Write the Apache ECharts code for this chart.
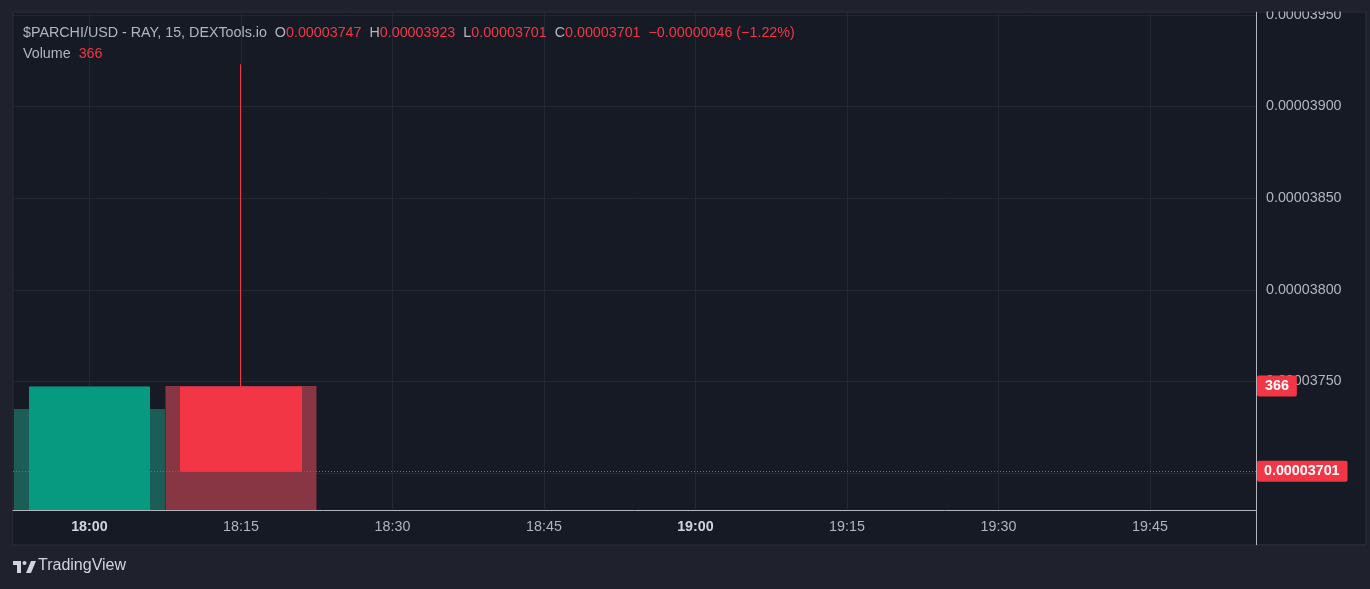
<!DOCTYPE html>
<html>
<head>
<meta charset="utf-8">
<script src="https://cdn.jsdelivr.net/npm/echarts@6/dist/echarts.min.js"></script>
<style>
html,body{margin:0;padding:0;background:#1f222d;}
#chart{width:1370px;height:589px;}
</style>
</head>
<body>
<div id="chart"></div>
<script>
// ---- data ----
const times = ['18:00', '18:15'];
const opens = [0.00003650, 0.00003747];
const highs = [0.00003747, 0.00003923];
const lows = [0.00003650, 0.00003701];
const closes = [0.00003747, 0.00003701];
const volumes = [298, 366];
const timeTicks = ['18:00', '18:15', '18:30', '18:45', '19:00', '19:15', '19:30', '19:45'];
const priceTicks = [0.00003700, 0.00003750, 0.00003800, 0.00003850, 0.00003900, 0.00003950];
const priceLabels = [0.00003750, 0.00003800, 0.00003850, 0.00003900, 0.00003950];
const symbolText = '$PARCHI/USD - RAY, 15, DEXTools.io';
const changeAbs = '\u22120.00000046';
const changePct = '(\u22121.22%)';

// ---- helpers ----
const toMin = s => { const [h, m] = s.split(':').map(Number); return h * 60 + m; };
const fmtTime = v => { const h = Math.floor(v / 60), m = Math.round(v - h * 60); return h + ':' + String(m).padStart(2, '0'); };
const fmtPrice = v => v.toFixed(8);

const X_MIN = 1072.43, X_MAX = 1195.5;
const candleData = times.map((t, i) => [toMin(t), opens[i], closes[i], lows[i], highs[i]]);
const volData = times.map((t, i) => ({
  value: [toMin(t), volumes[i]],
  itemStyle: { color: closes[i] >= opens[i] ? '#1c5e57' : '#883643' }
}));
const last = times.length - 1;

const chart = echarts.init(document.getElementById('chart'));
const UP = '#089981', DOWN = '#f23645';
const GRID = '#232733';
const PANEL = '#161a25', OUTER = '#1f222d';
const FONT = '"Liberation Sans", Roboto, sans-serif';
const FS = 14.3;
const LOGO = '#d1d4dc';

chart.setOption({
  backgroundColor: OUTER,
  animation: false,
  textStyle: { fontFamily: FONT },
  graphic: [
    { type: 'rect', z: -10, silent: true, shape: { x: 13, y: 12, width: 1353, height: 533 }, style: { fill: PANEL, stroke: '#2a2e39', lineWidth: 1 } },
    // masks outside the plot area (so candles overflowing the price range are cut at the axis)
    { type: 'rect', z: 5, silent: true, shape: { x: 13.5, y: 511, width: 1242.5, height: 34 }, style: { fill: PANEL } },
    { type: 'rect', z: 5, silent: true, shape: { x: 0, y: 545, width: 1370, height: 44 }, style: { fill: OUTER } },
    { type: 'line', z: 6, silent: true, shape: { x1: 13, y1: 545, x2: 1366, y2: 545 }, style: { stroke: '#2a2e39', lineWidth: 1 } },
    { type: 'rect', z: 100, silent: true, shape: { x: 1240, y: 0, width: 130, height: 11.5 }, style: { fill: OUTER } },
    { type: 'line', z: 50, silent: true, shape: { x1: 1256.5, y1: 510, x2: 1256.5, y2: 545 }, style: { stroke: '#b2b5be', lineWidth: 1 } },
    { type: 'text', z: 60, left: 23, top: 26, style: {
        text: '{g|' + symbolText + '  O}{r|' + fmtPrice(opens[last]) + '}{g|  H}{r|' + fmtPrice(highs[last]) +
              '}{g|  L}{r|' + fmtPrice(lows[last]) + '}{g|  C}{r|' + fmtPrice(closes[last]) + '}{r|  ' + changeAbs + ' ' + changePct + '}',
        rich: { g: { fill: '#b2b5be', fontSize: FS, fontFamily: FONT }, r: { fill: DOWN, fontSize: FS, fontFamily: FONT } }
    } },
    { type: 'text', z: 60, left: 23, top: 47, style: {
        text: '{g|Volume}{r|  ' + volumes[last] + '}',
        rich: { g: { fill: '#b2b5be', fontSize: FS, fontFamily: FONT }, r: { fill: DOWN, fontSize: FS, fontFamily: FONT } }
    } },
    // TradingView logo
    { type: 'rect', z: 60, silent: true, shape: { x: 13, y: 561, width: 8, height: 4 }, style: { fill: LOGO } },
    { type: 'rect', z: 60, silent: true, shape: { x: 17, y: 561, width: 4, height: 12 }, style: { fill: LOGO } },
    { type: 'circle', z: 60, silent: true, shape: { cx: 24.5, cy: 563, r: 2 }, style: { fill: LOGO } },
    { type: 'polygon', z: 60, silent: true, shape: { points: [[26, 573], [31, 561], [36, 561], [31, 573]] }, style: { fill: LOGO } },
    { type: 'text', z: 60, left: 38, top: 558, style: { text: 'TradingView', fill: LOGO, fontSize: 16, fontFamily: FONT, fontWeight: 500 } }
  ],
  grid: { left: 13, right: 114, top: 12, bottom: 79 },
  xAxis: [
    {
      type: 'value', position: 'bottom',
      min: X_MIN, max: X_MAX,
      axisLine: { show: false }, axisTick: { show: false, customValues: timeTicks.map(toMin) },
      axisLabel: { show: false, customValues: timeTicks.map(toMin) },
      splitLine: { show: true, lineStyle: { color: GRID, width: 1 } }
    },
    {
      type: 'value', position: 'bottom', z: 10,
      min: X_MIN, max: X_MAX,
      axisLine: { show: true, onZero: false, lineStyle: { color: '#b2b5be', width: 1 } },
      axisTick: { show: false, customValues: timeTicks.map(toMin) },
      splitLine: { show: false },
      axisLabel: {
        customValues: timeTicks.map(toMin),
        margin: 10,
        formatter: v => { const s = fmtTime(v); return s.endsWith(':00') ? '{b|' + s + '}' : '{n|' + s + '}'; },
        rich: {
          b: { color: '#d1d4dc', fontSize: FS, fontWeight: 'bold', fontFamily: FONT },
          n: { color: '#b2b5be', fontSize: FS, fontFamily: FONT }
        }
      }
    }
  ],
  yAxis: [
    {
      type: 'value', position: 'right',
      min: 0.000036799, max: 0.000039515,
      axisLine: { show: true, lineStyle: { color: '#b2b5be', width: 1 } },
      axisTick: { show: false, customValues: priceTicks },
      splitLine: { show: true, lineStyle: { color: GRID, width: 1 } },
      axisLabel: { customValues: priceLabels, margin: 10, color: '#b2b5be', fontSize: FS, fontFamily: FONT, formatter: v => fmtPrice(v) }
    },
    {
      type: 'value', min: 0, max: 1470, show: false,
      axisLine: { show: false }, splitLine: { show: false }, axisLabel: { show: false }
    }
  ],
  series: [
    {
      type: 'bar', name: 'Volume', xAxisIndex: 0, yAxisIndex: 1, z: 1,
      barWidth: 151, data: volData, clip: true
    },
    {
      type: 'candlestick', name: 'Price', xAxisIndex: 0, yAxisIndex: 0, z: 3,
      barWidth: 121, clip: true,
      encode: { x: 0, y: [1, 2, 3, 4] },
      itemStyle: { color: UP, color0: DOWN, borderColor: UP, borderColor0: DOWN, borderWidth: 1 },
      data: candleData
    },
    {
      type: 'line', name: 'lastPrice', xAxisIndex: 0, yAxisIndex: 0, z: 20, clip: false,
      symbol: 'none', lineStyle: { opacity: 0 }, silent: true,
      data: [[toMin(times[last]), closes[last]]],
      markLine: {
        silent: true, symbol: 'none',
        lineStyle: { color: DOWN, type: [1, 2], width: 1 },
        label: { show: true, position: 'end', distance: 1, formatter: fmtPrice(closes[last]), color: '#ffffff', backgroundColor: DOWN, fontSize: FS, fontWeight: 'bold', padding: [4, 8, 3, 7], borderRadius: 2, fontFamily: FONT },
        data: [[{ coord: [X_MIN, closes[last]] }, { coord: [X_MAX, closes[last]] }]]
      }
    },
    {
      type: 'line', name: 'lastVolume', xAxisIndex: 0, yAxisIndex: 1, z: 20, clip: false,
      symbol: 'none', lineStyle: { opacity: 0 }, silent: true,
      data: [[toMin(times[last]), volumes[last]]],
      markLine: {
        silent: true, symbol: 'none',
        lineStyle: { color: 'rgba(0,0,0,0)', width: 0 },
        label: { show: true, position: 'end', distance: 1, formatter: String(volumes[last]), color: '#ffffff', backgroundColor: DOWN, fontSize: FS, fontWeight: 'bold', padding: [4, 8, 3, 8], borderRadius: 2, fontFamily: FONT },
        data: [[{ coord: [X_MIN, volumes[last]] }, { coord: [X_MAX, volumes[last]] }]]
      }
    }
  ]
});
</script>
</body>
</html>
